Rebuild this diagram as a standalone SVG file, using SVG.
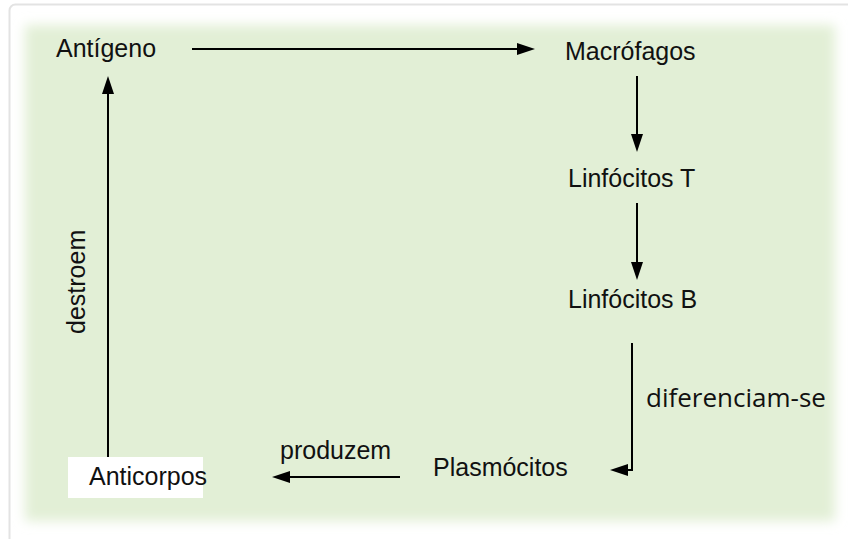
<svg xmlns="http://www.w3.org/2000/svg" width="848" height="539" viewBox="0 0 848 539">
  <defs>
    <filter id="soft" x="-5%" y="-5%" width="110%" height="110%">
      <feGaussianBlur stdDeviation="6"/>
    </filter>
    <marker id="head" viewBox="0 0 18 12" refX="12" refY="6" markerWidth="18" markerHeight="12" markerUnits="userSpaceOnUse" orient="auto">
      <path d="M0,0 L18,6 L0,12 Z" fill="#000"/>
    </marker>
    <style>
      .lbl { font-family: "Liberation Sans", Arial, sans-serif; font-size: 25px; fill: #111; }
      .alt { font-family: "Open Sans", "Noto Sans", sans-serif; font-size: 26px; fill: #111; }
      .edge { fill: none; stroke: #000; stroke-width: 2; marker-end: url(#head); }
    </style>
  </defs>

  <!-- page frame -->
  <rect x="0" y="0" width="848" height="539" fill="#fff"/>
  <rect x="9.5" y="4.5" width="900" height="600" rx="6" fill="#fff" stroke="#e3e3e3" stroke-width="2"/>

  <!-- soft green panel -->
  <rect x="25" y="25" width="810" height="496" fill="#e2efd6" filter="url(#soft)"/>

  <!-- connectors -->
  <g id="connectors">
    <line class="edge" x1="192" y1="49" x2="529" y2="49"/>
    <line class="edge" x1="637" y1="76" x2="637" y2="146"/>
    <line class="edge" x1="637" y1="203" x2="637" y2="274"/>
    <path class="edge" d="M632,343 L632,470 L616,470"/>
    <line class="edge" x1="400" y1="477" x2="278" y2="477"/>
    <line class="edge" x1="108" y1="457" x2="108" y2="82"/>
  </g>

  <!-- edge labels -->
  <text class="alt" x="646" y="407">diferenciam-se</text>
  <text class="lbl" x="280" y="459">produzem</text>
  <text class="lbl" transform="translate(85,334) rotate(-90)">destroem</text>

  <!-- nodes -->
  <g id="antigeno">
    <text class="lbl" x="56" y="57">Antígeno</text>
  </g>
  <g id="macrofagos">
    <text class="lbl" x="565" y="60">Macrófagos</text>
  </g>
  <g id="linfocitos-t">
    <text class="lbl" x="568" y="187">Linfócitos T</text>
  </g>
  <g id="linfocitos-b">
    <text class="lbl" x="568" y="308">Linfócitos B</text>
  </g>
  <g id="plasmocitos">
    <text class="lbl" x="433" y="476">Plasmócitos</text>
  </g>
  <g id="anticorpos">
    <rect x="68" y="457" width="135" height="41" fill="#fff"/>
    <text class="lbl" x="89" y="485">Anticorpos</text>
  </g>
</svg>
